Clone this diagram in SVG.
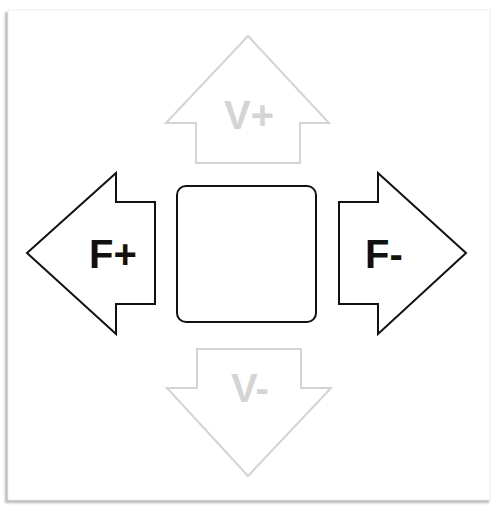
<svg xmlns="http://www.w3.org/2000/svg" width="491" height="506" viewBox="0 0 491 506">
<style>
.blk{fill:#fff;stroke:#111;stroke-width:2;stroke-linejoin:miter}
.gry{fill:#fff;stroke:#d4d4d4;stroke-width:2;stroke-linejoin:miter}
.tb{font-family:"Liberation Sans",Arial,sans-serif;font-weight:bold;font-size:40px;fill:#111;text-anchor:middle}
.tg{font-family:"Liberation Sans",Arial,sans-serif;font-weight:bold;font-size:40px;fill:#d4d4d4;text-anchor:middle}
</style>
<defs>
<filter id="sh" x="-5%" y="-5%" width="110%" height="110%"><feGaussianBlur stdDeviation="1.2"/></filter>
</defs>
<rect id="bg" x="0" y="0" width="491" height="506" fill="#fff"/>
<g id="frame">
<rect x="5" y="12" width="484" height="491" fill="#b8b8b8" filter="url(#sh)"/>
<rect x="8" y="10" width="482" height="490" fill="#fff" stroke="#ececec" stroke-width="1"/>
</g>
<g id="connectors"></g>
<g id="v-plus">
<polygon class="gry" points="248,36 329,123 300,123 300,163 196,163 196,123 166,123"/>
<text class="tg" x="249" y="129">V+</text>
</g>
<g id="v-minus">
<polygon class="gry" points="197,349 301,349 301,388 331,388 248,476 167,388 197,388"/>
<text class="tg" x="250" y="402">V-</text>
</g>
<g id="f-plus">
<polygon class="blk" points="27,253 116,173 116,202 155,202 155,304 116,304 116,334"/>
<text class="tb" x="113" y="268">F+</text>
</g>
<g id="f-minus">
<polygon class="blk" points="466,253 378,173 378,202 339,202 339,304 378,304 378,334"/>
<text class="tb" x="384" y="268">F-</text>
</g>
<g id="center">
<rect class="blk" x="177" y="186" width="139" height="136" rx="9" ry="9"/>
</g>
</svg>
